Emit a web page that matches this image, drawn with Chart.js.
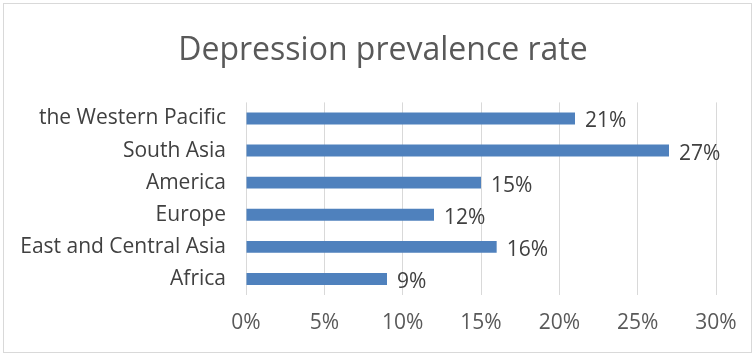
<!DOCTYPE html>
<html>
<head>
<meta charset="utf-8">
<script src="https://cdn.jsdelivr.net/npm/chart.js@4"></script>
<style>
  html, body { margin: 0; padding: 0; background: #fff; }
  #wrap { width: 755px; height: 356px; position: relative; }
</style>
</head>
<body>
<div id="wrap"><canvas id="chart" width="755" height="356"></canvas></div>
<script>
const regions = ['the Western Pacific', 'South Asia', 'America', 'Europe', 'East and Central Asia', 'Africa'];
const rates = [21, 27, 15, 12, 16, 9];
const xTicks = [0, 5, 10, 15, 20, 25, 30];

const FONT = "'Open Sans', 'Noto Sans', sans-serif";

// frame around the whole chart, like the office chart border
const framePlugin = {
    id: 'frame',
    beforeDraw(chart) {
        const ctx = chart.ctx;
        ctx.save();
        ctx.fillStyle = '#fff';
        ctx.fillRect(0, 0, chart.width, chart.height);
        ctx.strokeStyle = '#d9d9d9';
        ctx.lineWidth = 1;
        ctx.strokeRect(3.5, 3.5, chart.width - 7, chart.height - 7);
        ctx.restore();
    }
};

// value labels just past the end of each bar
const valueLabels = {
    id: 'valueLabels',
    afterDatasetsDraw(chart) {
        const ctx = chart.ctx;
        const meta = chart.getDatasetMeta(0);
        ctx.save();
        ctx.font = '21px ' + FONT;
        ctx.fillStyle = '#404040';
        ctx.textAlign = 'left';
        ctx.textBaseline = 'middle';
        meta.data.forEach((bar, i) => {
            ctx.fillText(rates[i] + '%', bar.x + 10, bar.y + 3);
        });
        ctx.restore();
    }
};

new Chart(document.getElementById('chart'), {
    type: 'bar',
    data: {
        labels: regions,
        datasets: [{
            data: rates,
            backgroundColor: '#4f81bd',
            borderWidth: 0,
            barPercentage: 0.37,
            categoryPercentage: 1
        }]
    },
    options: {
        indexAxis: 'y',
        responsive: false,
        animation: false,
        layout: { padding: { left: 11, right: 0, top: 0, bottom: 0 } },
        plugins: {
            legend: { display: false },
            tooltip: { enabled: false },
            title: {
                display: true,
                text: 'Depression prevalence rate',
                color: '#595959',
                font: { family: FONT, size: 32, weight: 'normal', lineHeight: 1.2 },
                padding: { top: 32, bottom: 32 }
            }
        },
        scales: {
            x: {
                min: 0,
                max: 30,
                afterBuildTicks(scale) { scale.ticks = xTicks.map(v => ({ value: v })); },
                afterFit(scale) { scale.height = 61; },
                grid: { color: '#d9d9d9', lineWidth: 1, drawTicks: false },
                border: { display: false },
                ticks: {
                    padding: 15,
                    color: '#595959',
                    font: { family: FONT, size: 21 },
                    callback: v => v + '%'
                }
            },
            y: {
                afterFit(scale) { scale.width = 235; },
                grid: { display: false, drawTicks: false },
                border: { display: false },
                ticks: {
                    padding: 20,
                    color: '#404040',
                    font: { family: FONT, size: 21 }
                }
            },
            // empty spacer on the right so the title stays centred on the whole frame
            spacer: {
                type: 'linear',
                position: 'right',
                afterFit(scale) { scale.width = 39; },
                grid: { display: false, drawTicks: false },
                border: { display: false },
                ticks: { display: false }
            }
        }
    },
    plugins: [framePlugin, valueLabels]
});
</script>
</body>
</html>
